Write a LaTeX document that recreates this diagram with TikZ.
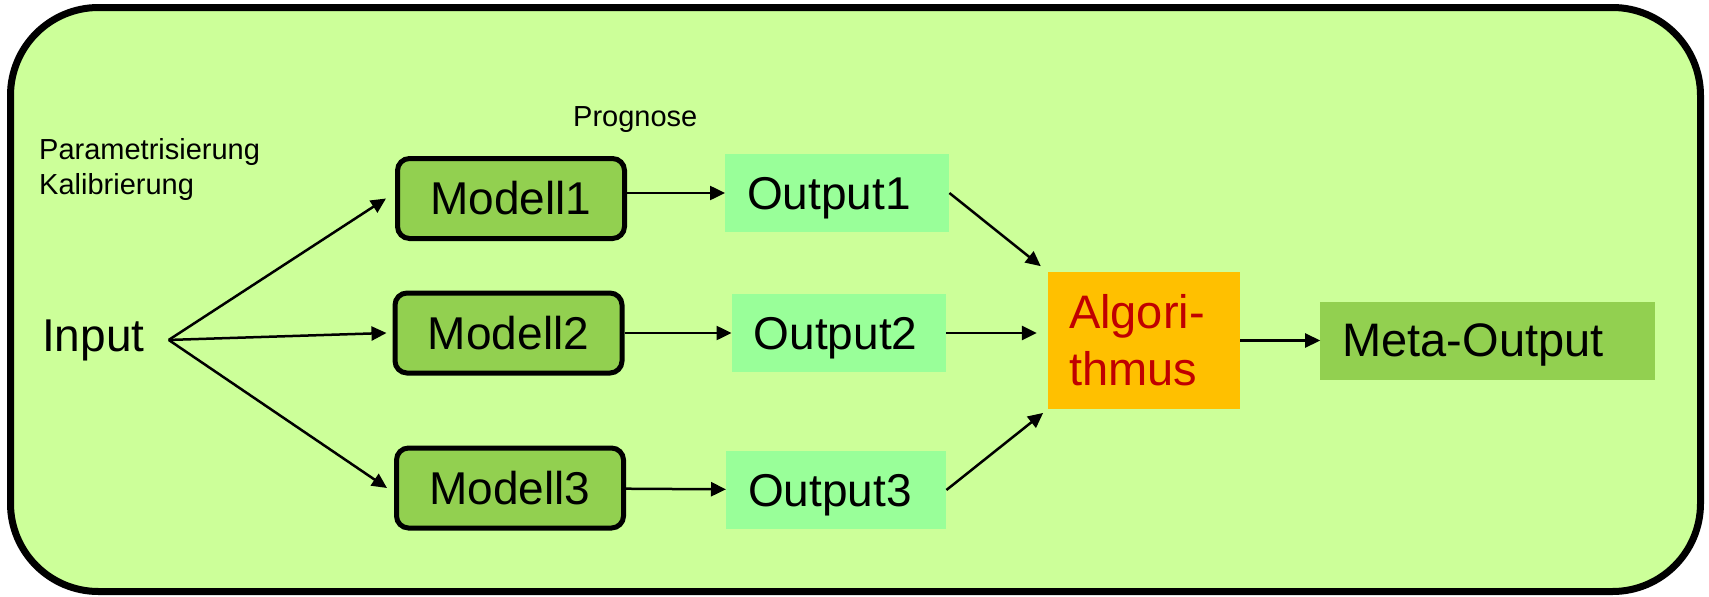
\documentclass[tikz,border=0pt]{standalone}
\usepackage{fontspec}
\setmainfont{Liberation Sans}
\usepackage{tikz}
\usetikzlibrary{arrows.meta, positioning}
\definecolor{bggreen}{HTML}{CCFF99}
\definecolor{modellgreen}{HTML}{92D050}
\definecolor{outgreen}{HTML}{99FF99}
\definecolor{algoorange}{HTML}{FFC000}
\definecolor{algored}{HTML}{C00000}
\newcommand{\diagbig}{\fontsize{46}{55}\selectfont}
\newcommand{\diagsmall}{\fontsize{29}{35}\selectfont}

\begin{document}
\begin{tikzpicture}[x=1pt, y=-1pt,
  modell/.style={rectangle, draw=black, line width=5pt, fill=modellgreen, rounded corners=12pt, minimum width=227pt, minimum height=80pt, font=\diagbig},
  outbox/.style={rectangle, fill=outgreen, minimum height=78pt, inner xsep=22pt, align=left, text depth=0pt, font=\diagbig},
  algobox/.style={rectangle, fill=algoorange, text=algored, minimum width=192pt, minimum height=137pt, inner xsep=21pt, text width=150pt, align=left, font=\fontsize{47}{57}\selectfont},
  metabox/.style={rectangle, fill=modellgreen, minimum width=335pt, minimum height=78pt, inner xsep=22pt, text width=291pt, align=left, text depth=0pt, font=\fontsize{47}{56}\selectfont},
  arrow/.style={-{Triangle[length=15pt, width=14pt]}, line width=2.5pt}
]
  \useasboundingbox (0,0) rectangle (1709,597);
  \draw[line width=7pt, fill=bggreen, rounded corners=88pt] (10.5,7.5) rectangle (1700.5,591.5);

  \node[anchor=base west, inner sep=0pt, font=\diagbig] (input) at (42,351) {Input};
  \coordinate[right=24pt of input] (fork);
  \node[anchor=north west, inner sep=0pt, align=left, font=\diagsmall] (param) at (39,138) {Parametrisierung\\Kalibrierung};
  \node[anchor=base west, inner sep=0pt, font=\diagsmall] (prog) at (573,126) {Prognose};

  \node[modell] (m1) at (511,198.5) {Modell1};
  \node[modell] (m2) at (508.5,333) {Modell2};
  \node[modell] (m3) at (510,488) {Modell3};

  \node[outbox, text width=180pt, right=98pt of m1, yshift=5.5pt] (o1) {Output1};
  \node[outbox, text width=170pt, right=107pt of m2] (o2) {Output2};
  \node[outbox, text width=176pt, right=100pt of m3, yshift=-2pt] (o3) {Output3};

  \node[algobox] (algo) at (1144,340.5) {Algori-\\thmus};
  \node[metabox, right=80pt of algo] (meta) {Meta-Output};

  \draw[arrow] (fork) -- ([xshift=-9pt]m1.west);
  \draw[arrow] (fork) -- ([xshift=-6pt]m2.west);
  \draw[arrow] (fork) -- ([xshift=-7pt]m3.west);

  \draw[arrow] (m1.east |- o1.west) -- (o1.west);
  \draw[arrow] (m2) -- (o2);
  \draw[arrow] (m3) -- (o3);

  \draw[arrow, shorten >=9pt] (o1.east) -- (algo.north west);
  \draw[arrow, shorten >=11pt] (o2.east) -- (o2.east -| algo.west);
  \draw[arrow, shorten >=6pt] (o3.east) -- (algo.south west);
  \draw[arrow] (algo) -- (meta);
\end{tikzpicture}
\end{document}
